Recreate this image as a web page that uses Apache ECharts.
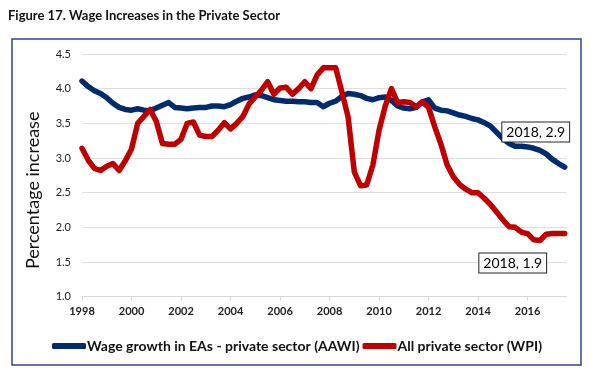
<!DOCTYPE html>
<html>
<head>
<meta charset="utf-8">
<script src="https://cdn.jsdelivr.net/npm/echarts@6/dist/echarts.min.js"></script>
<style>
html,body{margin:0;padding:0;background:#fff;}
#chart{width:594px;height:382px;}
</style>
</head>
<body>
<div id="chart"></div>
<script>
// Quarterly time points (decimal years), 1998 Q1 .. 2017 Q3
const quarters = [];
for (let i = 0; i < 79; i++) quarters.push(1998 + i * 0.25);

const aawi = [
  4.11, 4.03, 3.97, 3.93, 3.87, 3.79, 3.73, 3.70,
  3.69, 3.71, 3.69, 3.68, 3.72, 3.76, 3.80, 3.73,
  3.72, 3.71, 3.72, 3.73, 3.73, 3.75, 3.75, 3.74,
  3.77, 3.82, 3.86, 3.88, 3.91, 3.90, 3.87, 3.84,
  3.83, 3.82, 3.82, 3.81, 3.81, 3.80, 3.80, 3.74,
  3.79, 3.82, 3.89, 3.93, 3.92, 3.90, 3.86, 3.84,
  3.87, 3.88, 3.83, 3.75, 3.72, 3.71, 3.73, 3.81,
  3.84, 3.72, 3.69, 3.68, 3.65, 3.62, 3.60, 3.57,
  3.55, 3.51, 3.46, 3.37, 3.28, 3.21, 3.17, 3.17,
  3.16, 3.14, 3.11, 3.06, 2.98, 2.92, 2.87
];

const wpi = [
  3.14, 2.97, 2.85, 2.82, 2.88, 2.92, 2.82, 2.96,
  3.13, 3.50, 3.60, 3.70, 3.53, 3.21, 3.20, 3.20,
  3.27, 3.50, 3.52, 3.33, 3.31, 3.31, 3.40, 3.51,
  3.42, 3.50, 3.60, 3.78, 3.88, 3.98, 4.10, 3.92,
  4.01, 4.02, 3.92, 4.00, 4.10, 4.00, 4.20, 4.30,
  4.30, 4.30, 3.95, 3.59, 2.80, 2.60, 2.61, 2.90,
  3.40, 3.75, 4.00, 3.80, 3.81, 3.80, 3.74, 3.81,
  3.73, 3.45, 3.20, 2.90, 2.73, 2.62, 2.55, 2.50,
  2.50, 2.42, 2.33, 2.22, 2.11, 2.01, 2.00, 1.93,
  1.91, 1.82, 1.81, 1.90, 1.91, 1.91, 1.91
];

const seriesNames = ['Wage growth in EAs - private sector (AAWI)', 'All private sector (WPI)'];
const annotations = ['2018, 2.9', '2018, 1.9'];
const xTicks = [1998, 2000, 2002, 2004, 2006, 2008, 2010, 2012, 2014, 2016];
const yTicks = [1.0, 1.5, 2.0, 2.5, 3.0, 3.5, 4.0, 4.5];

const FONT = 'Lato, "Open Sans", sans-serif';
const toPairs = (vals) => vals.map((v, i) => [quarters[i], v]);

const chart = echarts.init(document.getElementById('chart'), null, {renderer: 'canvas'});

function endPoint(arr, labelText, offset) {
  const n = arr.length - 1;
  return {
    symbol: 'circle',
    symbolSize: 1,
    itemStyle: {color: 'rgba(0,0,0,0)'},
    silent: true,
    data: [{
      coord: [quarters[n], arr[n]],
      label: {
        show: true,
        position: 'inside',
        offset: offset,
        formatter: labelText,
        color: '#000',
        fontFamily: FONT,
        fontSize: 14,
        backgroundColor: '#fff',
        borderColor: '#222',
        borderWidth: 1,
        padding: [3, 4, 2, 4]
      }
    }]
  };
}

chart.setOption({
  animation: false,
  backgroundColor: '#fff',
  title: {
    text: 'Figure 17. Wage Increases in the Private Sector',
    left: 3,
    top: 4,
    textStyle: {fontFamily: FONT, fontWeight: 'bold', fontSize: 13, color: '#111'}
  },
  graphic: [{
    type: 'rect',
    shape: {x: 12, y: 39, width: 569, height: 326},
    style: {fill: 'none', stroke: '#2E4784', lineWidth: 1.5},
    silent: true,
    z: -1
  }],
  grid: {left: 82, right: 27.3, top: 54, bottom: 85.3},
  legend: {
    left: 'center',
    top: 334,
    icon: 'roundRect',
    itemWidth: 34,
    itemHeight: 6,
    itemGap: 3,
    textStyle: {fontFamily: FONT, fontWeight: 'bold', fontSize: 14, color: '#111', padding: [0, 0, 0, -4]},
    data: seriesNames
  },
  xAxis: {
    type: 'value',
    min: 1998,
    max: 2017.58,
    interval: 2,
    axisLine: {show: true, lineStyle: {color: '#d9d9d9', width: 1}},
    axisTick: {show: true, length: 4, lineStyle: {color: '#d9d9d9'}},
    splitLine: {show: false},
    axisLabel: {
      fontFamily: FONT, fontSize: 11, fontWeight: 'bold', color: '#222', margin: 9,
      showMaxLabel: false,
      formatter: (v) => xTicks.indexOf(Math.round(v * 100) / 100) >= 0 ? String(v) : ''
    }
  },
  yAxis: {
    type: 'value',
    min: 1,
    max: 4.5,
    interval: 0.5,
    name: 'Percentage increase',
    nameLocation: 'middle',
    nameGap: 40,
    nameRotate: 90,
    nameTextStyle: {fontFamily: FONT, fontSize: 18, color: '#111', padding: [0, 30, 0, 0]},
    axisLine: {show: false},
    axisTick: {show: false},
    splitLine: {lineStyle: {color: '#dedede', width: 1.2}},
    axisLabel: {
      fontFamily: FONT, fontSize: 11, color: '#222', margin: 11,
      formatter: (v) => yTicks.indexOf(Math.round(v * 10) / 10) >= 0 ? v.toFixed(1) : ''
    }
  },
  series: [
    {
      name: seriesNames[0],
      type: 'line',
      data: toPairs(aawi),
      showSymbol: false,
      color: '#002B6E',
      lineStyle: {color: '#002B6E', width: 5.5, cap: 'round', join: 'round'},
      markPoint: endPoint(aawi, annotations[0], [-29, -35]),
      z: 2
    },
    {
      name: seriesNames[1],
      type: 'line',
      data: toPairs(wpi),
      showSymbol: false,
      color: '#C00000',
      lineStyle: {color: '#C00000', width: 5.5, cap: 'round', join: 'round'},
      markPoint: endPoint(wpi, annotations[1], [-52, 29.5]),
      z: 3
    }
  ]
});
</script>
</body>
</html>
